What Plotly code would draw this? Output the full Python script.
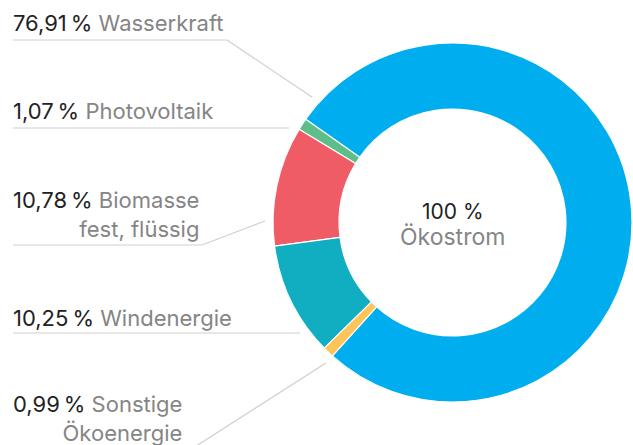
import plotly.graph_objects as go

# ---- data ----
labels = ["Wasserkraft", "Photovoltaik", "Biomasse<br>fest, flüssig", "Windenergie", "Sonstige<br>Ökoenergie"]
values = [76.91, 1.07, 10.78, 10.25, 0.99]
colors = ["#00AEEF", "#5DBE8A", "#F05C66", "#10AEC0", "#FFC457"]
center_value = "100 %"
center_label = "Ökostrom"

W, H = 633, 445
FONT = "Inter"
DARK = "#222222"
GRAY = "#858585"
LINE = "#CFCFCF"


def px(x):
    return x / W


def py(y):
    return 1 - y / H


def fmt(v):
    return f"{v:.2f}".replace(".", ",") + "\u2009%"


# first slice ends (counterclockwise) at this clockwise-from-top angle
first_slice_start = 222.0
total = sum(values)
rotation = first_slice_start - values[0] / total * 360

fig = go.Figure()
fig.add_trace(go.Pie(
    labels=labels,
    values=values,
    marker=dict(colors=colors, line=dict(color="white", width=1.2)),
    hole=0.632,
    sort=False,
    direction="counterclockwise",
    rotation=rotation,
    textinfo="none",
    hoverinfo="label+percent",
    showlegend=False,
    domain=dict(x=[273 / W, 632 / W], y=[43 / H, 402 / H]),
))

# label block positions (pixels): (x_left, y_center)
label_pos = [(11, 23), (11, 111), (11, 214), (11, 318), (11, 418)]
annotations = []
for lab, v, (lx, ly) in zip(labels, values, label_pos):
    parts = lab.split("<br>")
    first = f"<span style='color:{DARK}'>{fmt(v)}</span> <span style='color:{GRAY}'>{parts[0]}</span>"
    rest = "".join(f"<br><span style='color:{GRAY}'>{p}</span>" for p in parts[1:])
    annotations.append(dict(
        x=px(lx), y=py(ly), xref="paper", yref="paper",
        xanchor="left", yanchor="middle", align="right",
        text=first + rest, showarrow=False,
        font=dict(family=FONT, size=22, color=GRAY),
    ))

annotations.append(dict(x=px(452.5), y=py(211), xref="paper", yref="paper",
                        xanchor="center", yanchor="middle",
                        text=center_value, showarrow=False,
                        font=dict(family=FONT, size=21, color=DARK)))
annotations.append(dict(x=px(452.5), y=py(237), xref="paper", yref="paper",
                        xanchor="center", yanchor="middle",
                        text=center_label, showarrow=False,
                        font=dict(family=FONT, size=23, color=GRAY)))

# leader lines (pixel polylines)
leaders = [
    [(13, 40), (227, 40), (312, 97)],
    [(13, 128), (289, 128)],
    [(13, 245), (202, 245), (265, 221)],
    [(13, 333), (300, 333)],
    [(190, 450), (326, 363)],
]
shapes = []
for pts in leaders:
    for (x0, y0), (x1, y1) in zip(pts[:-1], pts[1:]):
        shapes.append(dict(type="line", xref="paper", yref="paper",
                           x0=px(x0), y0=py(y0), x1=px(x1), y1=py(y1),
                           line=dict(color=LINE, width=1.2)))

fig.update_layout(
    width=W, height=H,
    margin=dict(l=0, r=0, t=0, b=0),
    paper_bgcolor="white", plot_bgcolor="white",
    annotations=annotations, shapes=shapes,
    font=dict(family=FONT),
)

fig.write_html("out.html", config={"displayModeBar": False},
               post_script="document.body.style.margin='0';")
